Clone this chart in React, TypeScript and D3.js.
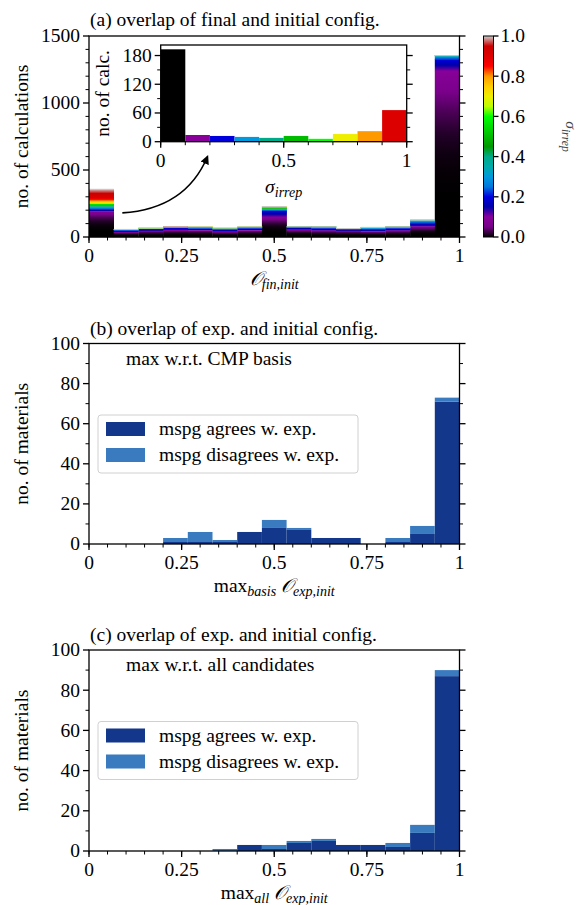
import React from 'react';
import * as d3 from 'd3';

// ---- data ----
const nBins = 15;
const binEdges = d3.range(nBins + 1).map(i => i / nBins);

// panel (a): calculations per overlap bin, split by sigma_irrep decile (0-0.1, ..., 0.9-1)
const sigmaCounts = [
  [193, 14, 12, 10, 8, 12, 6, 16, 22, 66],
  [38, 10, 6, 2, 1, 2, 1, 0, 0, 0],
  [45, 14, 3, 2, 1, 1, 1, 3, 0, 0],
  [52, 15, 4, 2, 1, 2, 1, 0, 1, 2],
  [50, 14, 4, 3, 2, 3, 4, 0, 0, 0],
  [40, 15, 6, 3, 2, 2, 2, 0, 0, 0],
  [50, 14, 6, 3, 2, 3, 2, 0, 0, 0],
  [150, 45, 10, 5, 4, 8, 7, 2, 0, 0],
  [55, 15, 6, 3, 1, 0, 0, 0, 0, 0],
  [48, 16, 8, 6, 2, 0, 0, 0, 0, 0],
  [45, 12, 5, 2, 3, 0, 0, 0, 0, 0],
  [42, 16, 8, 4, 3, 2, 0, 0, 0, 0],
  [48, 16, 8, 6, 2, 0, 0, 0, 0, 0],
  [78, 25, 16, 8, 2, 0, 0, 0, 0, 0],
  [1240, 85, 22, 5, 2, 1, 0, 0, 0, 3],
];
// inset: sigma_irrep histogram of the first overlap bin
const insetCounts = sigmaCounts[0];
const deciles = d3.range(10).map(k => `d${k}`);

// panels (b) and (c): materials per bin
const agreeB = [0, 0, 0, 1, 1, 1, 6, 8, 7, 3, 3, 0, 1, 5, 71];
const disagreeB = [0, 0, 0, 2, 5, 1, 0, 4, 1, 0, 0, 0, 2, 4, 2];
const agreeC = [0, 0, 0, 0, 0, 0, 3, 1, 4, 5, 3, 3, 2, 9, 87];
const disagreeC = [0, 0, 0, 0, 0, 1, 0, 2, 1, 1, 0, 0, 2, 4, 3];

const xTicks = [0, 0.25, 0.5, 0.75, 1];
const xTickLabels = ['0', '0.25', '0.5', '0.75', '1'];
const yTicksA = [0, 500, 1000, 1500];
const yTicksB = [0, 20, 40, 60, 80, 100];
const insetXTicks = [0, 0.5, 1];
const insetXLabels = ['0', '0.5', '1'];
const insetYTicks = [0, 60, 120, 180];
const cbarTicks = [0, 0.2, 0.4, 0.6, 0.8, 1.0];

// nipy_spectral colormap
const nipy = [
  [0, 0, 0], [0.4667, 0, 0.5333], [0.5333, 0, 0.6], [0, 0, 0.6667], [0, 0, 0.8667],
  [0, 0.4667, 0.8667], [0, 0.6, 0.8667], [0, 0.6667, 0.6667], [0, 0.6667, 0.5333],
  [0, 0.6, 0], [0, 0.7333, 0], [0, 0.8667, 0], [0, 1, 0], [0.7333, 1, 0],
  [0.9333, 0.9333, 0], [1, 0.8, 0], [1, 0.6, 0], [1, 0, 0], [0.8667, 0, 0],
  [0.8, 0, 0], [0.8, 0.8, 0.8],
];
const cmap = d3.scaleLinear<string>()
  .domain(nipy.map((_, i) => i / 20))
  .range(nipy.map(c => d3.rgb(c[0] * 255, c[1] * 255, c[2] * 255).toString()))
  .clamp(true);

const FONT = '"Liberation Serif", serif';
const FS = 19.5;
const DARK = '#12378b';
const LIGHT = '#3a7bbf';
const LW = 1.3;

const L = 89, R = 459.5;

type AxesProps = {
  top: number; bottom: number; left: number; right: number;
  x: d3.ScaleLinear<number, number>; y: d3.ScaleLinear<number, number>;
  xMajor: number[]; xLabels: string[]; xMinor: number[];
  yMajor: number[]; yMinor: number[];
};

const Axes = ({ top, bottom, left, right, x, y, xMajor, xLabels, xMinor, yMajor, yMinor }: AxesProps) => (
  <g>
    <rect x={left} y={top} width={right - left} height={bottom - top} fill="none" stroke="#000" strokeWidth={LW} />
    {xMinor.map((t, i) => <line key={'xm' + i} x1={x(t)} x2={x(t)} y1={bottom} y2={bottom + 3.5} stroke="#000" strokeWidth={1} />)}
    {xMajor.map((t, i) => (
      <g key={'xM' + i}>
        <line x1={x(t)} x2={x(t)} y1={bottom} y2={bottom + 6} stroke="#000" strokeWidth={LW} />
        <text x={x(t)} y={bottom + 25} textAnchor="middle" fontSize={FS}>{xLabels[i]}</text>
      </g>
    ))}
    {yMinor.map((t, i) => (
      <g key={'ym' + i}>
        <line x1={left - 3.5} x2={left} y1={y(t)} y2={y(t)} stroke="#000" strokeWidth={1} />
        <line x1={right} x2={right + 3.5} y1={y(t)} y2={y(t)} stroke="#000" strokeWidth={1} />
      </g>
    ))}
    {yMajor.map((t, i) => (
      <g key={'yM' + i}>
        <line x1={left - 6} x2={left} y1={y(t)} y2={y(t)} stroke="#000" strokeWidth={LW} />
        <line x1={right} x2={right + 6} y1={y(t)} y2={y(t)} stroke="#000" strokeWidth={LW} />
        <text x={left - 9} y={y(t)} dy="0.33em" textAnchor="end" fontSize={FS}>{t}</text>
      </g>
    ))}
  </g>
);

const Legend = ({ x, y }: { x: number; y: number }) => (
  <g>
    <rect x={x} y={y} width={260} height={58} rx={3} fill="#fff" fillOpacity={0.8} stroke="#d0d0d0" strokeWidth={1} />
    <rect x={x + 8} y={y + 7} width={39} height={14} fill={DARK} />
    <rect x={x + 8} y={y + 33} width={39} height={14} fill={LIGHT} />
    <text x={x + 61} y={y + 20} fontSize={FS}>mspg agrees w. exp.</text>
    <text x={x + 61} y={y + 46} fontSize={FS}>mspg disagrees w. exp.</text>
  </g>
);

const MatPanel = ({ top, bottom, agree, disagree, title, note, sub }: {
  top: number; bottom: number; agree: number[]; disagree: number[]; title: string; note: string; sub: string;
}) => {
  const x = d3.scaleLinear().domain([0, 1]).range([L, R]);
  const y = d3.scaleLinear().domain([0, 100]).range([bottom, top]);
  const rows = agree.map((a, i) => ({ i, agree: a, disagree: disagree[i] }));
  const series = d3.stack<any>().keys(['agree', 'disagree'])(rows);
  const colors = [DARK, LIGHT];
  return (
    <g>
      <text x={L + 1} y={top - 9} fontSize={FS}>{title}</text>
      {series.map((s, k) => s.map((d, i) => (
        d[1] > d[0] ? <rect key={k + '-' + i} x={x(binEdges[i])} width={x(binEdges[i + 1]) - x(binEdges[i])}
          y={y(d[1])} height={y(d[0]) - y(d[1])} fill={colors[k]} /> : null
      )))}
      <Axes top={top} bottom={bottom} left={L} right={R} x={x} y={y}
        xMajor={xTicks} xLabels={xTickLabels} xMinor={d3.range(0, 1.0001, 0.05)}
        yMajor={yTicksB} yMinor={d3.range(10, 100, 20)} />
      <text x={126} y={top + 21} fontSize={FS}>{note}</text>
      <Legend x={98} y={top + 71.5} />
      <text transform={`translate(28,${(top + bottom) / 2}) rotate(-90)`} textAnchor="middle" fontSize={FS}>no. of materials</text>
      <text x={(L + R) / 2} y={bottom + 48} textAnchor="middle" fontSize={FS}>
        max<tspan dy="4" fontSize={FS * 0.72} fontStyle="italic">{sub}</tspan>
        <tspan dy="-4"> </tspan>
        <tspan fontStyle="italic">𝒪</tspan>
        <tspan dy="4" fontSize={FS * 0.72} fontStyle="italic">exp,init</tspan>
      </text>
    </g>
  );
};

const PanelA = () => {
  const top = 36, bottom = 237;
  const x = d3.scaleLinear().domain([0, 1]).range([L, R]);
  const y = d3.scaleLinear().domain([0, 1500]).range([bottom, top]);
  const rows = sigmaCounts.map((c, i) => {
    const r: any = { i };
    c.forEach((v, k) => { r[`d${k}`] = v; });
    return r;
  });
  const series = d3.stack<any>().keys(deciles)(rows);

  // inset
  const ix = d3.scaleLinear().domain([0, 1]).range([160.7, 406.7]);
  const iy = d3.scaleLinear().domain([0, 202]).range([141.7, 45]);

  // colorbar
  const cb = { x: 483.5, w: 10 };
  const cy = d3.scaleLinear().domain([0, 1]).range([bottom, top]);

  return (
    <g>
      <defs>
        {deciles.map((_, k) => (
          <linearGradient key={k} id={`dec${k}`} x1="0" y1="1" x2="0" y2="0">
            {d3.range(9).map(j => {
              const t = j / 8;
              const s = k / 10 + 0.1 * (k === 0 ? Math.pow(t, 4) : t);
              return <stop key={j} offset={t} stopColor={cmap(s)} />;
            })}
          </linearGradient>
        ))}
        <linearGradient id="cbar" x1="0" y1="1" x2="0" y2="0">
          {d3.range(41).map(j => <stop key={j} offset={j / 40} stopColor={cmap(j / 40)} />)}
        </linearGradient>
        <marker id="arrowhead" viewBox="0 0 10 10" refX="8" refY="5" markerWidth="9" markerHeight="9"
          markerUnits="userSpaceOnUse" orient="auto">
          <path d="M0,0 L10,5 L0,10 z" fill="#000" />
        </marker>
      </defs>
      <text x={L + 1} y={top - 10} fontSize={FS}>(a) overlap of final and initial config.</text>
      {series.map((s, k) => s.map((d, i) => (
        d[1] > d[0] ? <rect key={k + '-' + i} x={x(binEdges[i])} width={x(binEdges[i + 1]) - x(binEdges[i]) + 0.3}
          y={y(d[1])} height={y(d[0]) - y(d[1]) + 0.3} fill={`url(#dec${k})`} /> : null
      )))}
      {sigmaCounts.map((c, i) => (
        <line key={'top' + i} x1={x(binEdges[i])} x2={x(binEdges[i + 1])} y1={y(d3.sum(c)) + 0.5} y2={y(d3.sum(c)) + 0.5}
          stroke="#c8c8c8" strokeWidth={1} />
      ))}
      <Axes top={top} bottom={bottom} left={L} right={R} x={x} y={y}
        xMajor={xTicks} xLabels={xTickLabels} xMinor={d3.range(0, 1.0001, 0.05)}
        yMajor={yTicksA} yMinor={d3.range(100, 1500, 100).filter(v => v % 500 !== 0)} />
      <text transform={`translate(28,${(top + bottom) / 2}) rotate(-90)`} textAnchor="middle" fontSize={FS}>no. of calculations</text>
      <text x={(L + R) / 2} y={bottom + 48} textAnchor="middle" fontSize={FS}>
        <tspan fontStyle="italic">𝒪</tspan>
        <tspan dy="4" fontSize={FS * 0.72} fontStyle="italic">fin,init</tspan>
      </text>

      {/* inset */}
      <rect x={ix(0)} y={iy(202)} width={ix(1) - ix(0)} height={iy(0) - iy(202)} fill="#fff" />
      {insetCounts.map((v, k) => (
        <rect key={'in' + k} x={ix(k / 10)} width={ix((k + 1) / 10) - ix(k / 10)} y={iy(v)} height={iy(0) - iy(v)} fill={cmap(k / 10)} />
      ))}
      <Axes top={iy(202)} bottom={iy(0)} left={ix(0)} right={ix(1)} x={ix} y={iy}
        xMajor={insetXTicks} xLabels={insetXLabels} xMinor={d3.range(0, 1.0001, 0.1)}
        yMajor={insetYTicks} yMinor={[30, 90, 150]} />
      <text transform={`translate(109,${(iy(0) + iy(202)) / 2}) rotate(-90)`} textAnchor="middle" fontSize={FS}>no. of calc.</text>
      <text x={(ix(0) + ix(1)) / 2} y={193} textAnchor="middle" fontSize={FS}>
        <tspan fontStyle="italic">σ</tspan>
        <tspan dy="4" fontSize={FS * 0.72} fontStyle="italic">irrep</tspan>
      </text>
      <path d={`M${x(0.09)},${y(180)} Q${x(0.26)},${y(210)} ${ix(0.19)},${iy(0) + 15}`} fill="none" stroke="#000" strokeWidth={1.6}
        markerEnd="url(#arrowhead)" />

      {/* colorbar */}
      <rect x={cb.x} y={top} width={cb.w} height={bottom - top} fill="url(#cbar)" stroke="#000" strokeWidth={1} />
      {cbarTicks.map((t, i) => (
        <g key={'cb' + i}>
          <line x1={cb.x + cb.w} x2={cb.x + cb.w + 5} y1={cy(t)} y2={cy(t)} stroke="#000" strokeWidth={LW} />
          <text x={cb.x + cb.w + 7} y={cy(t)} dy="0.33em" fontSize={FS}>{t.toFixed(1)}</text>
        </g>
      ))}
      <text transform={`translate(566,${(top + bottom) / 2}) rotate(90)`} textAnchor="middle" fontSize={FS * 0.8} fill="#444">
        <tspan fontStyle="italic">σ</tspan>
        <tspan dy="4" fontSize={FS * 0.6} fontStyle="italic">irrep</tspan>
      </text>
    </g>
  );
};

export default function App() {
  return (
    <svg width={585} height={905} style={{ position: 'absolute', left: 0, top: 0, background: '#fff' }}
      fontFamily={FONT}>
      <PanelA />
      <MatPanel top={343.5} bottom={544} agree={agreeB} disagree={disagreeB}
        title="(b) overlap of exp. and initial config." note="max w.r.t. CMP basis" sub="basis" />
      <MatPanel top={650} bottom={851} agree={agreeC} disagree={disagreeC}
        title="(c) overlap of exp. and initial config." note="max w.r.t. all candidates" sub="all" />
    </svg>
  );
}
